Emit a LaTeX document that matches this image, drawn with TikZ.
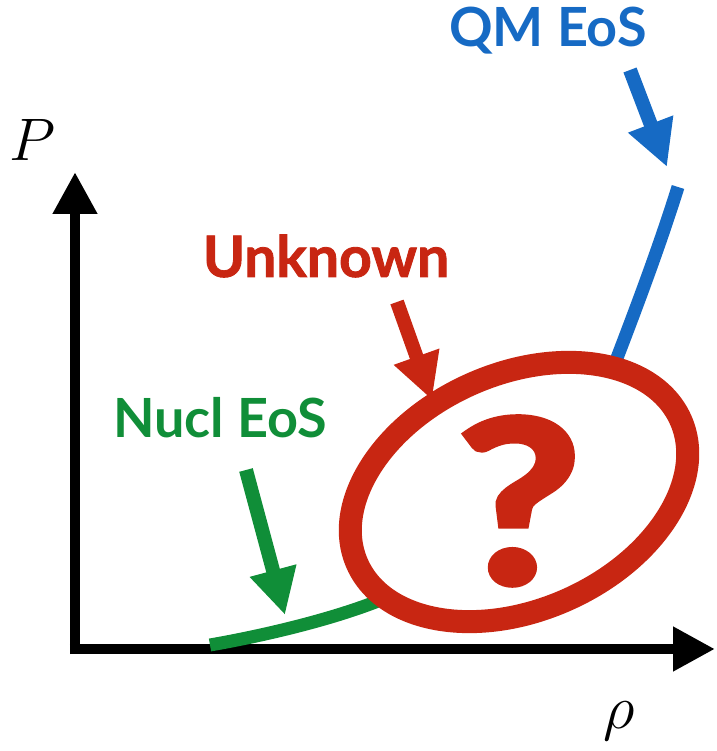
\RequirePackage{fix-cm}
\documentclass[tikz,border=0pt]{standalone}
\usepackage{fontspec}
\setmainfont{Lato}
\usepackage{tikz}
\usetikzlibrary{arrows.meta, positioning}

\definecolor{eosred}{RGB}{200,38,18}
\definecolor{eosgreen}{RGB}{16,142,56}
\definecolor{eosblue}{RGB}{22,106,196}

\begin{document}
\begin{tikzpicture}[x=1pt, y=1pt,
    axis/.style={line width=10.5pt, -{Triangle[length=42pt, width=42pt]}},
    eos/.style={line width=13pt},
    pointer/.style={line width=14pt, -{Triangle[length=46pt, width=45pt]}},
    lbl/.style={inner sep=0pt, font=\fontsize{54}{60}\selectfont\bfseries}]
    \useasboundingbox (0,0) rectangle (716,751);

    % axes
    \coordinate (O)      at (75,102);
    \coordinate (Ptip)   at (75,579);
    \coordinate (rhotip) at (715,102);
    \draw[axis] ([yshift=-5.25pt]O) -- (Ptip);
    \draw[axis] ([xshift=-5.25pt]O) -- (rhotip);
    \node (Plbl)   at (33,611) {\fontsize{60}{66}\selectfont $P$};
    \node (rholbl) at (619,30) {\fontsize{62}{68}\selectfont $\rho$};

    % the two known branches
    \coordinate (nstart) at (210,106);
    \coordinate (nend)   at (378,150);
    \coordinate (qstart) at (612,380);
    \coordinate (qend)   at (678,564);
    \draw[eos, eosgreen] (nstart) .. controls (262,115) and (330,131) .. (nend);
    \draw[eos, eosblue]  (qstart) .. controls (632,432) and (658,500) .. (qend);

    % the unknown region
    \coordinate (mid) at (519,259);
    \draw[eosred, line width=23pt, rotate around={24:(mid)}] (mid) ellipse [x radius=177, y radius=118];
    \node[text=eosred, inner sep=0pt, xscale=1.2, transform shape,
          font=\fontsize{226}{230}\selectfont\bfseries\addfontfeatures{FakeBold=3}] (qmark) at (519,250) {?};

    % labels and pointers
    \node[lbl, text=eosblue]  (qm)   at (548,720) {QM EoS};
    \node[lbl, text=eosred, font=\fontsize{57}{64}\selectfont\bfseries\addfontfeatures{FakeBold=1.5}] (unk) at (326,495) {Unknown};
    \node[lbl, text=eosgreen] (nucl) at (220,333) {Nucl EoS};

    \coordinate (qmfrom)   at (630,681);
    \coordinate (qmto)     at (667,584);
    \coordinate (unkfrom)  at (397,449);
    \coordinate (unkto)    at (432,351);
    \coordinate (nuclfrom) at (246,281);
    \coordinate (nuclto)   at (285,136);
    \draw[pointer, eosblue]  (qmfrom)   -- (qmto);
    \draw[pointer, eosred]   (unkfrom)  -- (unkto);
    \draw[pointer, eosgreen] (nuclfrom) -- (nuclto);
\end{tikzpicture}
\end{document}
